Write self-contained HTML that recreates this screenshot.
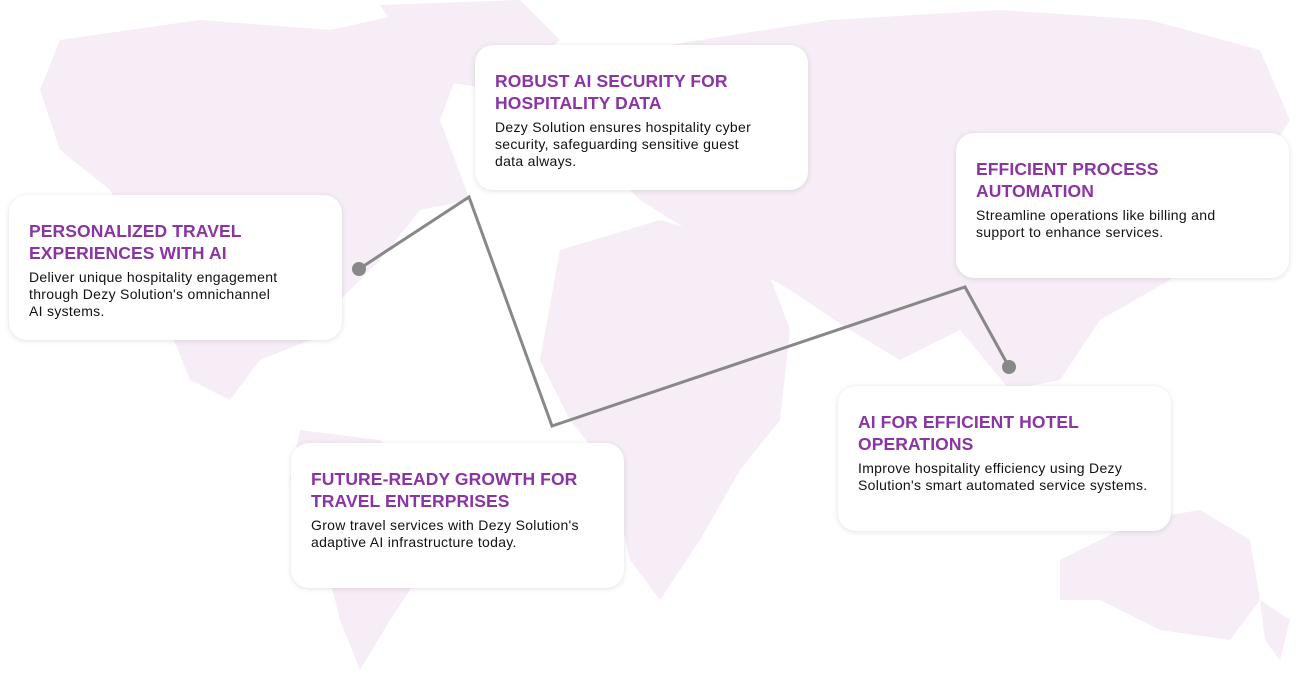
<!DOCTYPE html>
<html><head><style>
body{margin:0;width:1298px;height:680px;background:#fff;position:relative;overflow:hidden;font-family:"Liberation Sans",sans-serif}
.c{position:absolute;width:333px;height:145px;background:#fff;border-radius:18px;box-shadow:0 1px 6px rgba(0,0,0,.12);box-sizing:border-box;padding:25px 20px 0 20px;white-space:nowrap}
.c h3{margin:0;color:#8b34a3;font-size:17.5px;line-height:22px;font-weight:bold;letter-spacing:.1px}
.c p{margin:5px 0 0;color:#111;font-size:14px;line-height:17px;letter-spacing:.3px}
</style></head><body>
<svg width="1298" height="680" style="position:absolute;left:0;top:0">
<g fill="#f6edf6">
<path d="M60 40 L200 20 L330 30 L420 10 L470 40 L440 120 L470 200 L420 210 L380 260 L340 300 L310 340 L260 360 L230 400 L190 380 L170 330 L150 260 L110 190 L60 150 L40 90Z"/>
<path d="M380 5 L520 0 L560 40 L500 90 L430 80Z"/>
<path d="M300 430 L380 440 L460 500 L430 560 L390 620 L360 670 L340 620 L320 540 L290 480Z"/>
<path d="M560 250 L660 220 L760 250 L790 330 L780 420 L740 470 L700 540 L660 600 L630 560 L610 470 L570 420 L540 360Z"/>
<path d="M580 60 L700 40 L830 20 L1000 10 L1150 20 L1260 50 L1290 120 L1240 200 L1170 280 L1100 320 L1060 380 L1010 390 L960 330 L900 360 L850 330 L790 290 L720 250 L640 200 L590 150Z"/>
<path d="M1060 560 L1140 520 L1200 510 L1250 540 L1260 600 L1230 640 L1160 630 L1100 600 L1060 600Z"/>
<path d="M1260 600 L1290 620 L1280 660 L1265 640Z"/>
</g>
<polyline points="359,269 469,197 552,426 965,287 1009,367" fill="none" stroke="#888" stroke-width="3"/>
<circle cx="359" cy="269" r="7" fill="#888"/>
<circle cx="1009" cy="367" r="7" fill="#888"/>
</svg>
<div class="c" style="left:9px;top:195px"><h3>PERSONALIZED TRAVEL<br>EXPERIENCES WITH AI</h3><p>Deliver unique hospitality engagement<br>through Dezy Solution's omnichannel<br>AI systems.</p></div>
<div class="c" style="left:475px;top:45px"><h3>ROBUST AI SECURITY FOR<br>HOSPITALITY DATA</h3><p>Dezy Solution ensures hospitality cyber<br>security, safeguarding sensitive guest<br>data always.</p></div>
<div class="c" style="left:956px;top:133px"><h3>EFFICIENT PROCESS<br>AUTOMATION</h3><p>Streamline operations like billing and<br>support to enhance services.</p></div>
<div class="c" style="left:838px;top:386px"><h3>AI FOR EFFICIENT HOTEL<br>OPERATIONS</h3><p>Improve hospitality efficiency using Dezy<br>Solution's smart automated service systems.</p></div>
<div class="c" style="left:291px;top:443px"><h3>FUTURE-READY GROWTH FOR<br>TRAVEL ENTERPRISES</h3><p>Grow travel services with Dezy Solution's<br>adaptive AI infrastructure today.</p></div>
</body></html>
